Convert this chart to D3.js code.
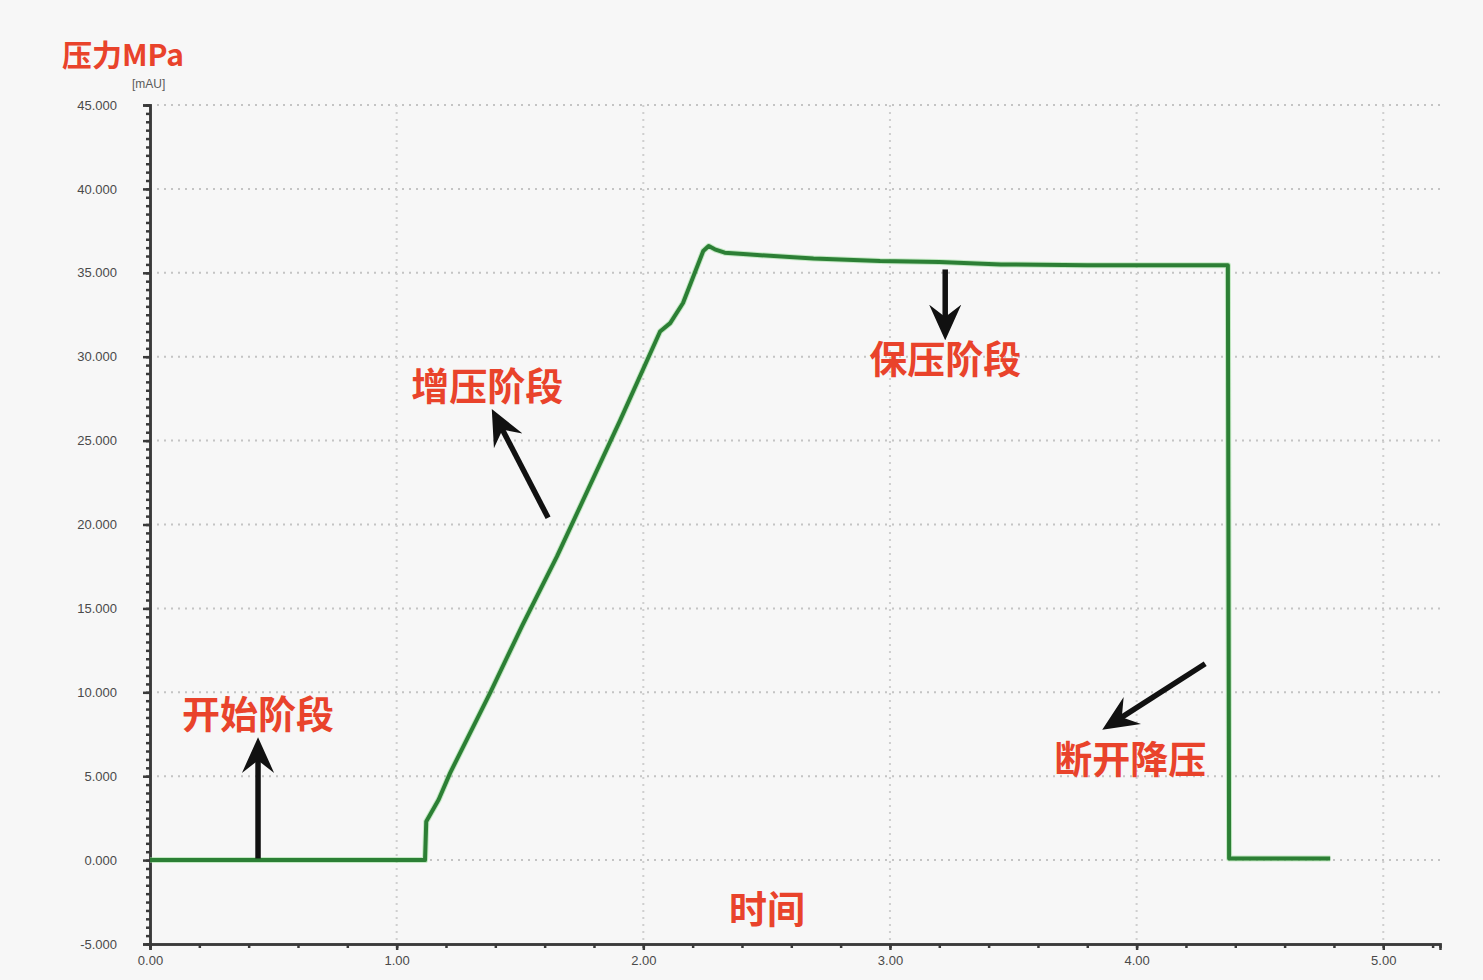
<!DOCTYPE html>
<html>
<head>
<meta charset="utf-8">
<script src="https://cdn.jsdelivr.net/npm/d3@7"></script>
<style>
  body { margin: 0; background: #f7f7f7; }
  svg { display: block; }
</style>
</head>
<body>
<div id="chart-area"></div>
<script>
// time (x) and pressure MPa (y)
const times = [0, 1.115, 1.12, 1.17, 1.217, 1.38, 1.51, 1.65, 1.906, 2.068, 2.109, 2.161, 2.243, 2.265, 2.29, 2.33, 2.42, 2.69, 2.96, 3.2, 3.45, 3.8, 4.1, 4.37, 4.375, 4.785];
const pressure = [0, 0, 2.3, 3.6, 5.2, 10.0, 14.0, 18.1, 26.2, 31.5, 32.0, 33.2, 36.3, 36.6, 36.4, 36.2, 36.1, 35.85, 35.7, 35.65, 35.5, 35.45, 35.45, 35.45, 0.1, 0.1];

const yTicks = [-5, 0, 5, 10, 15, 20, 25, 30, 35, 40, 45];
const xTicks = [0, 1, 2, 3, 4, 5];

// annotation labels, with arrow tail/head and text anchor in data units
const noteLabels = ['开始阶段', '增压阶段', '保压阶段', '断开降压'];
const noteArrowFrom = [[0.438, 0.1], [1.614, 20.4], [3.224, 35.2], [4.278, 11.7]];
const noteArrowTo = [[0.438, 6.9], [1.399, 26.5], [3.224, 31.4], [3.885, 8.0]];
const noteTextAt = [[0.438, 7.9], [1.367, 27.4], [3.224, 29.0], [3.974, 5.2]];

const W = 1483, H = 980;
const margin = {left: 150, right: 43, top: 105, bottom: 36};
const width = W - margin.left - margin.right;
const height = H - margin.top - margin.bottom;

const svg = d3.select('#chart-area')
    .append('svg')
        .attr('width', W)
        .attr('height', H);

svg.append('rect')
    .attr('width', W)
    .attr('height', H)
    .attr('fill', '#f7f7f7');

const g = svg.append('g')
    .attr('transform', `translate(${margin.left}, ${margin.top})`);

const x = d3.scaleLinear()
    .domain([0, 5.23])
    .range([0, width]);

const y = d3.scaleLinear()
    .domain([-5, 45])
    .range([height, 0]);

const cjk = '"Noto Sans CJK SC", "Noto Sans", sans-serif';
const plain = d3.formatLocale({decimal: '.', thousands: ',', grouping: [3], currency: ['', ''], minus: '-'});

// dotted grid
g.append('g')
    .selectAll('line')
    .data(yTicks.filter(v => v > -5))
    .enter()
    .append('line')
        .attr('x1', 0)
        .attr('x2', width + 5)
        .attr('y1', v => y(v))
        .attr('y2', v => y(v))
        .attr('stroke', '#c4c4c4')
        .attr('stroke-width', 2)
        .attr('stroke-dasharray', '2,5');

g.append('g')
    .selectAll('line')
    .data(xTicks.filter(v => v > 0))
    .enter()
    .append('line')
        .attr('x1', v => x(v))
        .attr('x2', v => x(v))
        .attr('y1', 0)
        .attr('y2', height)
        .attr('stroke', '#cfcfcf')
        .attr('stroke-width', 2)
        .attr('stroke-dasharray', '2,5');

// Y axis
const yMinor = d3.range(-5, 45.01, 0.5);
const yAxisCall = d3.axisLeft(y)
    .tickValues(yMinor)
    .tickSize(4)
    .tickFormat('');
g.append('g')
    .attr('class', 'y-axis minor')
    .call(yAxisCall);

const yMajorCall = d3.axisLeft(y)
    .tickValues(yTicks)
    .tickSize(7)
    .tickPadding(26)
    .tickFormat(plain.format('.3f'));
g.append('g')
    .attr('class', 'y-axis')
    .call(yMajorCall);

// X axis
const xMinor = d3.range(0, 5.21, 0.2);
const xAxisCall = d3.axisBottom(x)
    .tickValues(xMinor)
    .tickSize(4)
    .tickFormat('');
g.append('g')
    .attr('class', 'x-axis minor')
    .attr('transform', `translate(0, ${height})`)
    .call(xAxisCall);

const xMajorCall = d3.axisBottom(x)
    .tickValues(xTicks)
    .tickSize(6)
    .tickPadding(6)
    .tickFormat(plain.format('.2f'));
g.append('g')
    .attr('class', 'x-axis')
    .attr('transform', `translate(0, ${height})`)
    .call(xMajorCall);

g.selectAll('.domain')
    .attr('stroke', '#3a3a3a')
    .attr('stroke-width', 2.5);
g.selectAll('.tick line')
    .attr('stroke', '#3a3a3a')
    .attr('stroke-width', 2.5);
g.selectAll('.tick text')
    .attr('fill', '#4a4a4a')
    .attr('font-family', 'Liberation Sans, Arial, sans-serif')
    .attr('font-size', '13px');

// pressure curve
const line = d3.line()
    .x((d, i) => x(times[i]))
    .y(d => y(d));

g.append('path')
    .datum(pressure)
    .attr('fill', 'none')
    .attr('stroke', '#8fdc8f')
    .attr('stroke-width', 6)
    .attr('stroke-linejoin', 'round')
    .attr('opacity', 0.5)
    .attr('d', line);

g.append('path')
    .datum(pressure)
    .attr('fill', 'none')
    .attr('stroke', '#2c7f35')
    .attr('stroke-width', 4)
    .attr('stroke-linejoin', 'round')
    .attr('d', line);

// arrow head
svg.append('defs')
    .append('marker')
        .attr('id', 'head')
        .attr('viewBox', '0 0 10 10')
        .attr('refX', 8)
        .attr('refY', 5)
        .attr('markerWidth', 6.5)
        .attr('markerHeight', 6.5)
        .attr('markerUnits', 'strokeWidth')
        .attr('orient', 'auto')
    .append('path')
        .attr('d', 'M0,0.5 L10,5 L0,9.5 L3.5,5 Z')
        .attr('fill', '#111');

// annotations
noteLabels.forEach((label, i) => {
    g.append('line')
        .attr('x1', x(noteArrowFrom[i][0]))
        .attr('y1', y(noteArrowFrom[i][1]))
        .attr('x2', x(noteArrowTo[i][0]))
        .attr('y2', y(noteArrowTo[i][1]))
        .attr('stroke', '#111')
        .attr('stroke-width', 5.5)
        .attr('marker-end', 'url(#head)');

    g.append('text')
        .attr('x', x(noteTextAt[i][0]))
        .attr('y', y(noteTextAt[i][1]))
        .attr('text-anchor', 'middle')
        .attr('font-family', cjk)
        .attr('font-weight', 'bold')
        .attr('font-size', '38px')
        .attr('fill', '#e9432b')
        .text(label);
});

// Y label
svg.append('text')
    .attr('x', 62)
    .attr('y', 66)
    .attr('font-family', cjk)
    .attr('font-weight', 'bold')
    .attr('font-size', '30px')
    .attr('fill', '#e9432b')
    .text('压力MPa');

svg.append('text')
    .attr('x', 132)
    .attr('y', 88)
    .attr('font-family', 'Liberation Sans, Arial, sans-serif')
    .attr('font-size', '12px')
    .attr('fill', '#5a5a5a')
    .text('[mAU]');

// X label
svg.append('text')
    .attr('x', 767)
    .attr('y', 923)
    .attr('text-anchor', 'middle')
    .attr('font-family', cjk)
    .attr('font-weight', 'bold')
    .attr('font-size', '38px')
    .attr('fill', '#e9432b')
    .text('时间');
</script>
</body>
</html>
